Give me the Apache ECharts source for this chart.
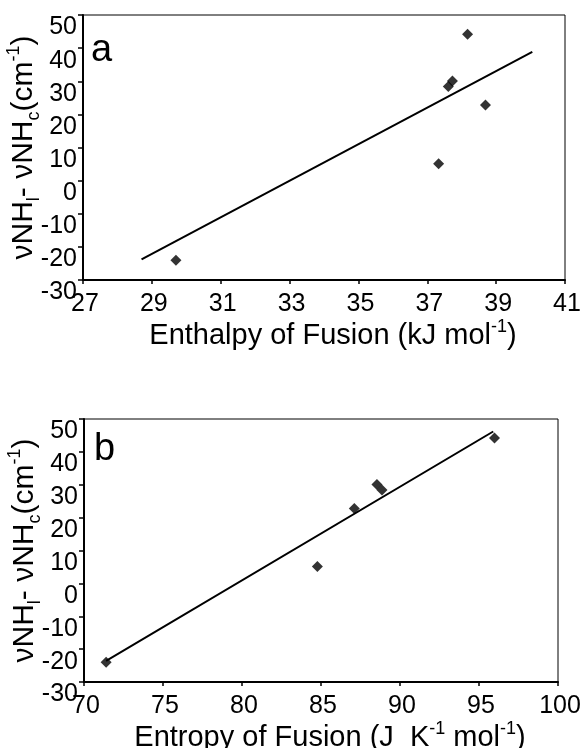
<!DOCTYPE html>
<html><head><meta charset="utf-8">
<script src="https://cdn.jsdelivr.net/npm/echarts/dist/echarts.min.js"></script>
<style>html,body{margin:0;padding:0;background:#fff}#c{width:581px;height:748px}</style>
</head><body><div id="c"></div>
<script>
// Panel a: enthalpy of fusion vs frequency difference
const enthalpy = [29.70, 37.33, 37.61, 37.73, 38.17, 38.69];
const deltaNuA = [-24.0, 5.1, 28.4, 30.1, 44.2, 22.8];
const fitAx = [28.7, 40.05];
const fitAy = [-23.8, 38.9];
// Panel b: entropy of fusion vs frequency difference
const entropy = [71.4, 84.77, 87.11, 88.54, 88.86, 95.98];
const deltaNuB = [-24.0, 5.1, 22.8, 30.1, 28.4, 44.2];
const fitBx = [71.4, 95.9];
const fitBy = [-23.6, 46.2];
// axis ranges / ticks
const xTicksA = {min: 27, max: 41, interval: 2};
const xTicksB = {min: 70, max: 100, interval: 5};
const yTicks = {min: -30, max: 50, interval: 10};
const panelLetters = ['a', 'b'];

const F = '"Liberation Sans", Arial, Helvetica, sans-serif';
const pairs = (xs, ys) => xs.map((x, i) => [x, ys[i]]);

const yName = '{t|νNH}{s|l}{t|- νNH}{s|c}{t|(cm}{p|-1}{t|)}';
const richY = {
  t: {fontSize: 30, fontFamily: F, color: '#000', lineHeight: 38},
  s: {fontSize: 18, fontFamily: F, color: '#000', lineHeight: 18, verticalAlign: 'bottom'},
  p: {fontSize: 18, fontFamily: F, color: '#000', lineHeight: 18, verticalAlign: 'top'}
};
const richX = {
  t: {fontSize: 29, fontFamily: F, color: '#000', lineHeight: 36},
  p: {fontSize: 18, fontFamily: F, color: '#000', lineHeight: 18, verticalAlign: 'top'}
};

function xAxis(grid, t, name) {
  return {
    type: 'value', gridIndex: grid, min: t.min, max: t.max, interval: t.interval,
    axisLine: {show: true, onZero: false, lineStyle: {color: '#000', width: 2}},
    axisTick: {show: true, inside: false, length: 4, lineStyle: {color: '#000', width: 1.5}},
    splitLine: {show: false},
    axisLabel: {color: '#000', fontSize: 25, fontFamily: F, margin: 12, padding: [0, 0, 0, 4]},
    name: name, nameLocation: 'middle', nameGap: 36,
    nameTextStyle: {rich: richX, padding: [0, 0, 0, 18]}
  };
}
function yAxis(grid) {
  return {
    type: 'value', gridIndex: grid, min: yTicks.min, max: yTicks.max, interval: yTicks.interval,
    axisLine: {show: true, onZero: false, lineStyle: {color: '#000', width: 2}},
    axisTick: {show: true, inside: false, length: 5, lineStyle: {color: '#000', width: 1.5}},
    splitLine: {show: false},
    axisLabel: {color: '#000', fontSize: 25, fontFamily: F, margin: 6, verticalAlign: 'top'},
    name: yName, nameLocation: 'middle', nameRotate: 90, nameGap: 40, nameMoveOverlap: false,
    nameTextStyle: {rich: richY}
  };
}

const chart = echarts.init(document.getElementById('c'), null, {renderer: 'canvas'});
chart.setOption({
  animation: false,
  backgroundColor: '#fff',
  title: [
    {text: panelLetters[0], left: 91, top: 32, textStyle: {fontSize: 38, fontWeight: 'normal', fontFamily: F, color: '#000'}, padding: 0},
    {text: panelLetters[1], left: 94, top: 431, textStyle: {fontSize: 38, fontWeight: 'normal', fontFamily: F, color: '#000'}, padding: 0}
  ],
  grid: [
    {left: 83, top: 15, width: 482, height: 265, show: true, borderColor: '#000', borderWidth: 1, backgroundColor: 'transparent', containLabel: false, outerBoundsMode: 'none'},
    {left: 84, top: 419, width: 474, height: 263, show: true, borderColor: '#000', borderWidth: 1, backgroundColor: 'transparent', containLabel: false, outerBoundsMode: 'none'}
  ],
  xAxis: [
    xAxis(0, xTicksA, '{t|Enthalpy of Fusion (kJ mol}{p|-1}{t|)}'),
    xAxis(1, xTicksB, '{t|Entropy of Fusion (J  K}{p|-1}{t| mol}{p|-1}{t|)}')
  ],
  yAxis: [yAxis(0), yAxis(1)],
  series: [
    {type: 'line', xAxisIndex: 0, yAxisIndex: 0, data: pairs(fitAx, fitAy), showSymbol: false,
     lineStyle: {color: '#000', width: 2}, silent: true},
    {type: 'scatter', xAxisIndex: 0, yAxisIndex: 0, data: pairs(enthalpy, deltaNuA),
     symbol: 'diamond', symbolSize: 11, itemStyle: {color: '#000'}},
    {type: 'line', xAxisIndex: 1, yAxisIndex: 1, data: pairs(fitBx, fitBy), showSymbol: false,
     lineStyle: {color: '#000', width: 2}, silent: true},
    {type: 'scatter', xAxisIndex: 1, yAxisIndex: 1, data: pairs(entropy, deltaNuB),
     symbol: 'diamond', symbolSize: 11, itemStyle: {color: '#000'}}
  ]
});
</script>
</body></html>
